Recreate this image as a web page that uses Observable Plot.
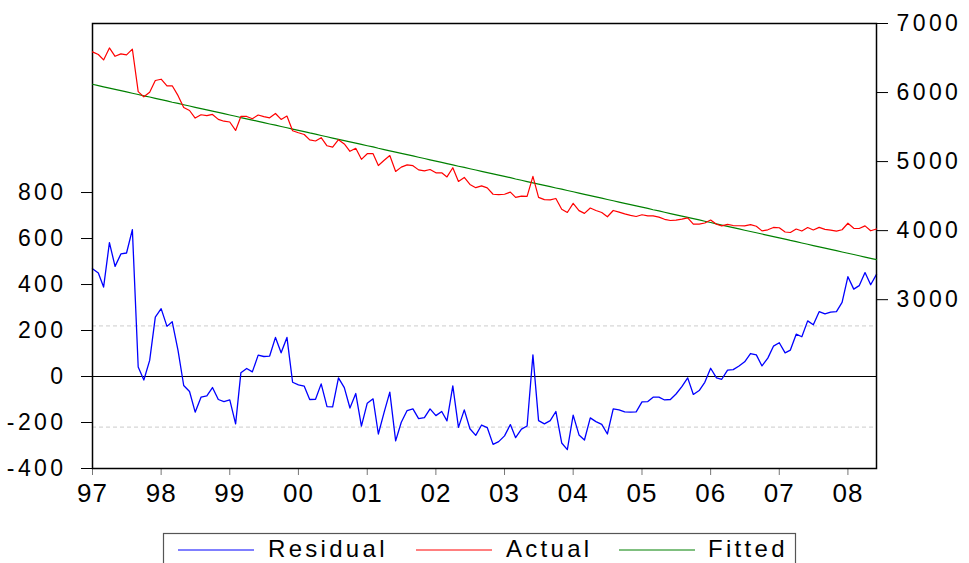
<!DOCTYPE html>
<html><head><meta charset="utf-8">
<script src="https://cdn.jsdelivr.net/npm/d3@7"></script>
<script src="https://cdn.jsdelivr.net/npm/@observablehq/plot@0.6"></script>
<style>
body{margin:0;background:#fff;font-family:"Liberation Sans",Arial,sans-serif;}
#wrap{position:relative;width:969px;height:563px;overflow:hidden;background:#fff;}
#wrap svg{position:absolute;left:0;top:0;}
#wrap g[aria-label="y-axis tick label"] text{letter-spacing:3.4px;}
#wrap g[aria-label="x-axis tick label"] text{letter-spacing:1px;}
#legend text{letter-spacing:3.3px;}
</style></head><body><div id="wrap"></div>
<script>
// Monthly data, 1997:01 – 2008:06
const startYear = 1997;
const residual = [469,450,389,582,479,533,537,639,41,-15,
70,258,295,218,238,113,-39,-65,-155,-90,
-84,-48,-100,-109,-102,-206,16,35,20,93,
87,89,170,103,170,-25,-36,-42,-100,-99,
-32,-131,-132,-6,-48,-137,-74,-216,-116,-97,
-250,-155,-68,-280,-199,-148,-141,-183,-179,-141,
-170,-152,-193,-41,-221,-145,-227,-256,-211,-222,
-295,-283,-258,-209,-266,-229,-215,94,-192,-206,
-192,-152,-289,-318,-168,-254,-276,-180,-196,-208,
-250,-141,-145,-154,-155,-154,-110,-109,-90,-90,
-102,-100,-76,-44,-6,-78,-61,-25,36,-6,
-12,28,30,46,64,100,94,46,80,132,
147,103,115,184,173,242,225,282,272,280,
282,322,434,380,395,452,399,444];
const actual = [6589,6551,6472,6646,6525,6560,6546,6629,6013,5938,
6005,6174,6193,6097,6098,5955,5784,5740,5631,5678,
5665,5683,5612,5585,5573,5451,5654,5654,5621,5675,
5651,5634,5697,5611,5660,5446,5417,5392,5315,5298,
5346,5229,5209,5317,5256,5149,5193,5033,5114,5115,
4943,5019,5088,4857,4920,4952,4941,4880,4866,4885,
4838,4837,4778,4911,4712,4770,4669,4622,4648,4619,
4527,4521,4527,4558,4482,4501,4496,4786,4482,4449,
4445,4466,4311,4263,4395,4290,4250,4327,4292,4262,
4201,4292,4269,4242,4222,4205,4230,4213,4213,4195,
4164,4147,4153,4166,4186,4095,4094,4111,4154,4093,
4069,4090,4074,4071,4070,4088,4063,3997,4012,4046,
4042,3980,3973,4024,3994,4045,4009,4047,4019,4008,
3992,4013,4107,4034,4031,4069,3998,4024];
const fitted = [6120,6101,6083,6064,6046,6027,6009,5990,5972,5953,
5935,5916,5898,5879,5860,5842,5823,5805,5786,5768,
5749,5731,5712,5694,5675,5657,5638,5619,5601,5582,
5564,5545,5527,5508,5490,5471,5453,5434,5415,5397,
5378,5360,5341,5323,5304,5286,5267,5249,5230,5212,
5193,5174,5156,5137,5119,5100,5082,5063,5045,5026,
5008,4989,4971,4952,4933,4915,4896,4878,4859,4841,
4822,4804,4785,4767,4748,4730,4711,4692,4674,4655,
4637,4618,4600,4581,4563,4544,4526,4507,4488,4470,
4451,4433,4414,4396,4377,4359,4340,4322,4303,4285,
4266,4247,4229,4210,4192,4173,4155,4136,4118,4099,
4081,4062,4044,4025,4006,3988,3969,3951,3932,3914,
3895,3877,3858,3840,3821,3803,3784,3765,3747,3728,
3710,3691,3673,3654,3636,3617,3599,3580];
const yearTicks = [1997,1998,1999,2000,2001,2002,2003,2004,2005,2006,2007,2008];
const residTicks = [-400,-200,0,200,400,600,800];
const levelTicks = [3000,4000,5000,6000,7000];
const seBand = [-220, 220];
const seriesNames = ["Residual","Actual","Fitted"];
const seriesColors = ["#0000ff","#ff0000","#008000"];

const dates = residual.map((_, i) => new Date(Date.UTC(startYear, i, 1)));
const rows = dates.map((date, i) => ({date, residual: residual[i], actual: actual[i], fitted: fitted[i]}));
const xDomain = [dates[0], dates[dates.length - 1]];
const xTicks = yearTicks.map(y => new Date(Date.UTC(y, 0, 1)));

const W = 969, H = 520, mt = 23, mb = 52, ml = 92, mr = 93;
const font = '"Liberation Sans", Arial, sans-serif';
const wrap = document.getElementById("wrap");

const p1 = Plot.plot({
  width: W, height: H, marginTop: mt, marginBottom: mb, marginLeft: ml, marginRight: mr,
  style: {background: "transparent", fontFamily: font, color: "#000", overflow: "visible"},
  x: {type: "utc", domain: xDomain, label: null},
  y: {domain: [-400, 1535], label: null},
  marks: [
    Plot.ruleY(seBand, {stroke: "#cccccc", strokeDasharray: "4,3"}),
    Plot.ruleY([0], {stroke: "#000"}),
    Plot.lineY(rows, {x: "date", y: "residual", stroke: seriesColors[0], strokeWidth: 1.3}),
    Plot.axisY(residTicks, {anchor: "left", tickSize: 11, tickPadding: 15, fontSize: 23, tickFormat: d => String(d), label: null, stroke: "#000"}),
    Plot.axisX(xTicks, {anchor: "bottom", tickSize: 7, tickPadding: 8, fontSize: 26, tickFormat: d3.utcFormat("%y"), label: null, stroke: "#777"}),
    Plot.frame({stroke: "#000", strokeWidth: 1.5})
  ]
});
wrap.appendChild(p1);

const p2 = Plot.plot({
  width: W, height: H, marginTop: mt, marginBottom: mb, marginLeft: ml, marginRight: mr,
  style: {background: "transparent", fontFamily: font, color: "#000", overflow: "visible"},
  x: {type: "utc", domain: xDomain, axis: null},
  y: {domain: [555, 7000], label: null},
  marks: [
    Plot.lineY(rows, {x: "date", y: "fitted", stroke: seriesColors[2], strokeWidth: 1.2}),
    Plot.lineY(rows, {x: "date", y: "actual", stroke: seriesColors[1], strokeWidth: 1.2}),
    Plot.axisY(levelTicks, {anchor: "right", tickSize: 11, tickPadding: 9, fontSize: 23, tickFormat: d => String(d), label: null, stroke: "#000"})
  ]
});
wrap.appendChild(p2);

// legend below the chart
const lg = d3.select(wrap).append("svg").attr("id", "legend")
  .attr("width", W).attr("height", 563).style("pointer-events", "none");
lg.append("rect").attr("x", 163.5).attr("y", 533.5).attr("width", 632).attr("height", 60)
  .attr("fill", "#fff").attr("stroke", "#555").attr("stroke-width", 1.2);
const lineX = [178, 416, 619];
const textX = [268, 506, 708];
seriesNames.forEach((name, i) => {
  lg.append("line").attr("x1", lineX[i]).attr("x2", lineX[i] + 76).attr("y1", 550).attr("y2", 550)
    .attr("stroke", seriesColors[i]).attr("stroke-width", 1);
  lg.append("text").attr("x", textX[i]).attr("y", 557).attr("font-size", 24)
    .attr("font-family", font).attr("fill", "#000").text(name);
});
</script></body></html>
